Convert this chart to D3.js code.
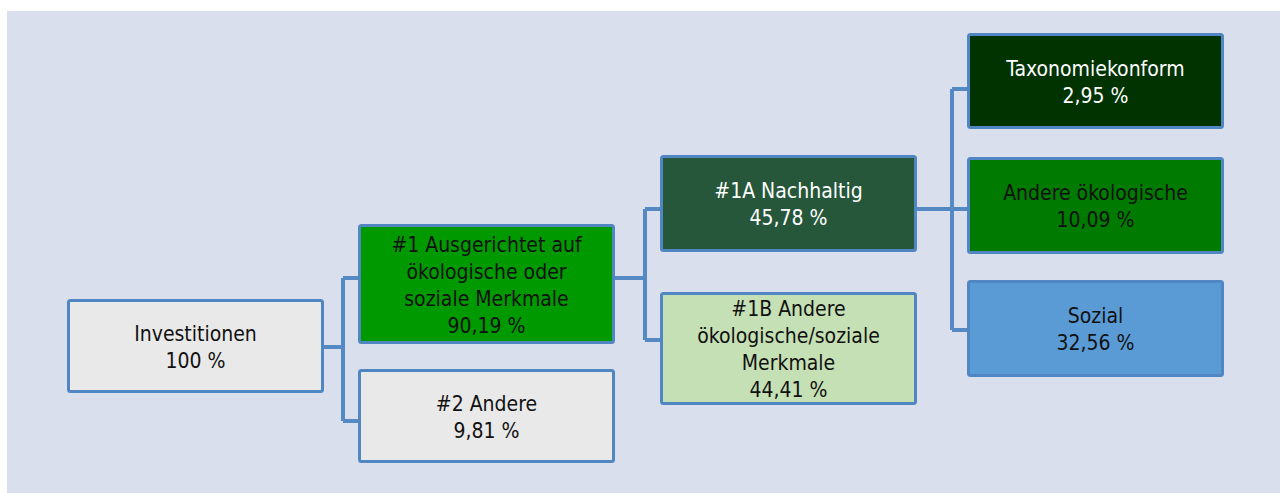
<!DOCTYPE html>
<html>
<head>
<meta charset="utf-8">
<script src="https://cdn.jsdelivr.net/npm/d3@7"></script>
<style>
  html, body { margin: 0; padding: 0; background: #fff; }
  svg { display: block; }
  text { font-family: "DejaVu Sans Condensed", "DejaVu Sans", sans-serif; font-stretch: condensed; }
</style>
</head>
<body>
<svg id="chart" width="1280" height="493"></svg>
<script>
// data
var ids     = ["inv", "c1", "c2", "c1a", "c1b", "tax", "oeko", "soz"];
var parents = [null, "inv", "inv", "c1", "c1", "c1a", "c1a", "c1a"];
var labels  = [
  "Investitionen",
  "#1 Ausgerichtet auf\nökologische oder\nsoziale Merkmale",
  "#2 Andere",
  "#1A Nachhaltig",
  "#1B Andere\nökologische/soziale\nMerkmale",
  "Taxonomiekonform",
  "Andere ökologische",
  "Sozial"
];
var shares  = [100, 90.19, 9.81, 45.78, 44.41, 2.95, 10.09, 32.56];

// styles
var fills = { inv: "#e9e9e9", c1: "#009900", c2: "#e9e9e9", c1a: "#26573b",
              c1b: "#c5e0b4", tax: "#003300", oeko: "#007a00", soz: "#5b9bd5" };
var lightText = { c1a: true, tax: true };

// layout (top, height, connector y) per box
var layout = {
  inv:  { top: 299, h: 94,  port: 347 },
  c1:   { top: 224, h: 120, port: 278 },
  c2:   { top: 369, h: 94,  port: 421 },
  c1a:  { top: 155, h: 97,  port: 209 },
  c1b:  { top: 292, h: 113, port: 340 },
  tax:  { top: 33,  h: 96,  port: 89 },
  oeko: { top: 157, h: 97,  port: 209 },
  soz:  { top: 280, h: 97,  port: 330 }
};

var W = 1280, H = 493, boxW = 257, lineH = 27;
var lineColor = "#5489c4";

var de = d3.formatLocale({ decimal: ",", thousands: ".", grouping: [3], currency: ["", " €"] });
function pct(v) { return (Number.isInteger(v) ? de.format("d")(v) : de.format(".2f")(v)) + " %"; }

var rows = ids.map(function (id, i) {
  return { id: id, parentId: parents[i], label: labels[i], value: shares[i] };
});
var root = d3.stratify().id(function (d) { return d.id; }).parentId(function (d) { return d.parentId; })(rows);

var x = d3.scaleOrdinal().domain([0, 1, 2, 3]).range([67, 358, 660, 967]);

var svg = d3.select("#chart");

svg.append("rect")
  .attr("x", 7).attr("y", 11)
  .attr("width", W - 7).attr("height", H - 11)
  .attr("fill", "#d9dfec");

// connectors
var links = svg.append("g")
  .attr("fill", "none")
  .attr("stroke", lineColor)
  .attr("stroke-width", 4);

root.descendants().filter(function (n) { return n.children; }).forEach(function (n) {
  var px = x(n.depth) + boxW;
  var py = layout[n.id].port;
  var jx = x(n.depth + 1) - 15;
  var ys = n.children.map(function (c) { return layout[c.id].port; }).concat([py]);
  links.append("path").attr("d", "M" + px + "," + py + "H" + jx);
  links.append("path").attr("d", "M" + jx + "," + d3.min(ys) + "V" + d3.max(ys));
  n.children.forEach(function (c) {
    links.append("path").attr("d", "M" + jx + "," + layout[c.id].port + "H" + x(c.depth));
  });
});

// boxes
var node = svg.append("g").selectAll("g")
  .data(root.descendants())
  .join("g")
    .attr("transform", function (d) { return "translate(" + x(d.depth) + "," + layout[d.id].top + ")"; });

node.append("rect")
  .attr("x", 1.5).attr("y", 1.5)
  .attr("rx", 2)
  .attr("width", boxW - 3)
  .attr("height", function (d) { return layout[d.id].h - 3; })
  .attr("fill", function (d) { return fills[d.id]; })
  .attr("stroke", "#5086c1")
  .attr("stroke-width", 3);

node.each(function (d) {
  var lines = d.data.label.split("\n").concat([pct(d.data.value)]);
  var cy = layout[d.id].h / 2;
  var first = cy - (lines.length - 1) * lineH / 2 + 8;
  d3.select(this).append("text")
    .attr("text-anchor", "middle")
    .attr("font-size", 21)
    .attr("fill", lightText[d.id] ? "#ffffff" : "#111111")
    .selectAll("tspan")
    .data(lines)
    .join("tspan")
      .attr("x", boxW / 2)
      .attr("y", function (t, i) { return first + i * lineH; })
      .text(function (t) { return t; });
});
</script>
</body>
</html>
